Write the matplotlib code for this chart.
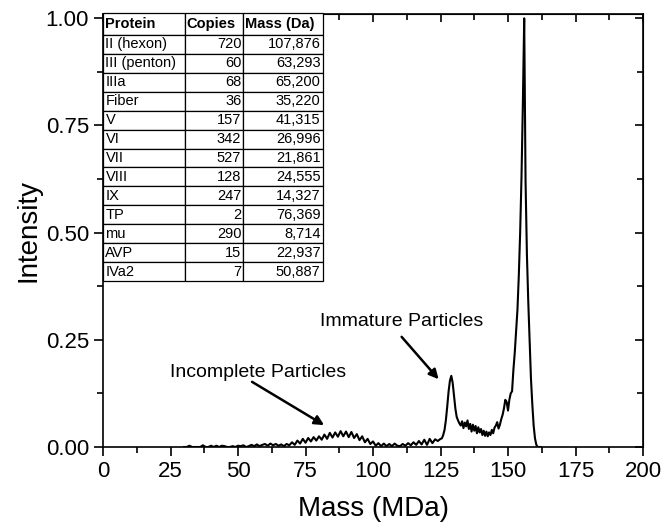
"""
Mass spectrum of adenovirus particles with the capsid protein table.
"""
import matplotlib
matplotlib.use("Agg")
import matplotlib.pyplot as plt

plt.rcParams["font.family"] = ["Liberation Sans", "DejaVu Sans"]

# spectrum (MDa, normalised intensity)
mass = [
    30, 31, 32, 33, 34, 35, 36, 37, 38, 39,
    40, 41, 42, 43, 44, 45, 46, 47, 48, 49,
    50, 51, 52, 53, 54, 55, 56, 57, 58, 59,
    60, 61, 62, 63, 64, 65, 66, 67, 68, 69,
    70, 71, 72, 73, 74, 75, 76, 77, 78, 79,
    80, 81, 82, 83, 84, 85, 86, 87, 88, 89,
    90, 91, 92, 93, 94, 95, 96, 97, 98, 99,
    100, 101, 102, 103, 104, 105, 106, 107, 108, 109,
    110, 111, 112, 113, 114, 115, 116, 117, 118, 119,
    120, 121, 122, 123, 124, 125,
    125.5, 126, 126.5, 127, 127.5, 128, 128.5, 129, 129.5, 130,
    130.5, 131, 131.5, 132, 132.5, 133, 133.5, 134, 134.5, 135,
    135.5, 136, 136.5, 137, 137.5, 138, 138.5, 139, 139.5, 140,
    140.5, 141, 141.5, 142, 142.5, 143, 143.5, 144, 144.5, 145,
    145.5, 146, 146.5, 147, 147.5, 148, 148.5, 149, 149.5, 150,
    150.5, 151, 151.5, 152, 152.5, 153, 153.5, 154, 154.5, 155,
    155.5, 156, 156.5, 157, 157.5, 158, 158.5, 159, 159.5, 160,
    160.5, 161, 162,
]
intensity = [
    0, 0, 0.003, 0, 0, 0, 0, 0.004, 0, 0,
    0.003, 0, 0.003, 0, 0.003, 0.002, 0, 0, 0.002, 0,
    0.003, 0.002, 0.004, 0, 0.002, 0.005, 0.002, 0.006, 0.002, 0.005,
    0.007, 0.003, 0.008, 0.004, 0.007, 0.003, 0.006, 0.002, 0.007, 0.004,
    0.011, 0.005, 0.015, 0.008, 0.019, 0.010, 0.021, 0.013, 0.023, 0.015,
    0.025, 0.017, 0.029, 0.019, 0.033, 0.022, 0.034, 0.024, 0.037, 0.025,
    0.036, 0.023, 0.035, 0.021, 0.030, 0.016, 0.025, 0.011, 0.019, 0.007,
    0.013, 0.003, 0.009, 0.002, 0.008, 0.002, 0.007, 0.002, 0.008, 0.003,
    0.002, 0.007, 0.003, 0.009, 0.004, 0.011, 0.005, 0.014, 0.006, 0.017,
    0.005, 0.019, 0.009, 0.018, 0.014, 0.019,
    0.020, 0.028, 0.040, 0.063, 0.095, 0.130, 0.155, 0.166, 0.150, 0.120,
    0.090, 0.070, 0.062, 0.055, 0.050, 0.060, 0.044, 0.057, 0.048, 0.062,
    0.042, 0.054, 0.036, 0.052, 0.038, 0.049, 0.032, 0.046, 0.034, 0.042,
    0.028, 0.038, 0.026, 0.036, 0.025, 0.034, 0.028, 0.040, 0.032, 0.045,
    0.050, 0.058, 0.043, 0.052, 0.065, 0.075, 0.090, 0.110, 0.105, 0.085,
    0.110, 0.125, 0.130, 0.180, 0.220, 0.270, 0.320, 0.400, 0.500, 0.630,
    0.800, 1.000, 0.620, 0.450, 0.340, 0.250, 0.160, 0.100, 0.050, 0.020,
    0.005, 0, 0,
]

proteins = ["II (hexon)", "III (penton)", "IIIa", "Fiber", "V", "VI", "VII",
            "VIII", "IX", "TP", "mu", "AVP", "IVa2"]
copies = [720, 60, 68, 36, 157, 342, 527, 128, 247, 2, 290, 15, 7]
mass_da = [107876, 63293, 65200, 35220, 41315, 26996, 21861, 24555, 14327,
           76369, 8714, 22937, 50887]

major_x = list(range(0, 201, 25))
minor_x = [x + 12.5 for x in range(0, 200, 25)]
major_y = [0, 0.25, 0.5, 0.75, 1.0]
minor_y = [0.125, 0.375, 0.625, 0.875]

fig = plt.figure(figsize=(6.62, 5.27), dpi=100)
ax = fig.add_axes([0.1556, 0.1518, 0.8157, 0.8216])

ax.plot(mass, intensity, color="black", lw=1.5)

ax.set_xlim(0, 200)
ax.set_ylim(0, 1.01)
ax.set_xticks(major_x)
ax.set_xticks(minor_x, minor=True)
ax.set_yticks(major_y)
ax.set_yticks(minor_y, minor=True)
ax.set_yticklabels(["0.00", "0.25", "0.50", "0.75", "1.00"])
ax.tick_params(which="both", direction="out", width=1.2, labelsize=16,
               top=False, right=False)
ax.tick_params(which="major", length=6.5)
ax.tick_params(which="minor", length=4.5)
for sp in ax.spines.values():
    sp.set_linewidth(1.2)

# inward ticks on the top and right edges (no labels)
ax_top = ax.secondary_xaxis("top")
ax_top.set_xticks(major_x)
ax_top.set_xticks(minor_x, minor=True)
ax_top.tick_params(which="both", direction="in", width=1.2)
ax_top.tick_params(which="major", length=6)
ax_top.tick_params(which="minor", length=4)
ax_top.set_xticklabels([])
ax_right = ax.secondary_yaxis("right")
ax_right.set_yticks(major_y)
ax_right.set_yticks(minor_y, minor=True)
ax_right.tick_params(which="both", direction="in", width=1.2)
ax_right.tick_params(which="major", length=6)
ax_right.tick_params(which="minor", length=4)
ax_right.set_yticklabels([])

ax.set_xlabel("Mass (MDa)", fontsize=20, labelpad=10)
ax.set_ylabel("Intensity", fontsize=20, labelpad=3)

# annotations
ax.text(110.7, 0.292, "Immature Particles", fontsize=14, ha="center", va="center")
ax.annotate("", xy=(124.3, 0.158), xytext=(110.6, 0.257),
            arrowprops=dict(arrowstyle="-|>", color="black", lw=1.8,
                            mutation_scale=14, shrinkA=0, shrinkB=0))
ax.text(57.4, 0.173, "Incomplete Particles", fontsize=14, ha="center", va="center")
ax.annotate("", xy=(81.9, 0.051), xytext=(55.2, 0.152),
            arrowprops=dict(arrowstyle="-|>", color="black", lw=1.8,
                            mutation_scale=14, shrinkA=0, shrinkB=0))

# protein table in the upper-left corner
rows = [["Protein", "Copies", "Mass (Da)"]]
for p, c, m in zip(proteins, copies, mass_da):
    rows.append([p, str(c), f"{m:,}"])
col_w = [82, 58, 80]
tbl = ax.table(cellText=rows, colWidths=[w / 220 for w in col_w],
               bbox=[0.0, 0.3834, 0.4074, 0.6190], zorder=5)
tbl.auto_set_font_size(False)
tbl.set_fontsize(10.5)
for (r, c), cell in tbl.get_celld().items():
    cell.PAD = 0.03
    cell.set_linewidth(0.9)
    cell.set_edgecolor("black")
    cell.set_facecolor("white")
    cell.set_height(22 if r == 0 else 18.9)
    if r == 0:
        cell.get_text().set_fontweight("bold")
        cell._loc = "left"
        cell.get_text().set_ha("left")
    elif c == 0:
        cell._loc = "left"
        cell.get_text().set_ha("left")
    else:
        cell._loc = "right"
        cell.get_text().set_ha("right")

fig.savefig("out.png", dpi=100)
